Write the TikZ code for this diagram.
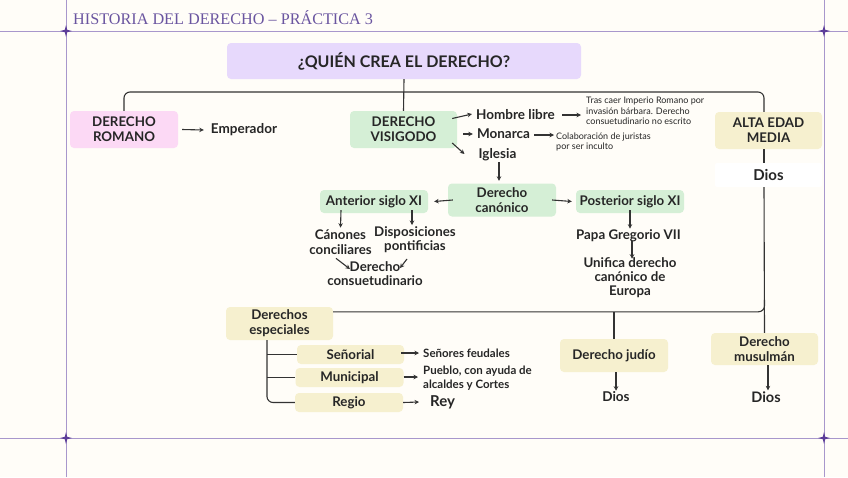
\documentclass[tikz,border=0pt]{standalone}
\usepackage{fontspec}
\setmainfont{Lato}
\newfontfamily\titlefont{Liberation Serif}
\usetikzlibrary{arrows.meta,calc}
\definecolor{bg}{HTML}{FFFDF8}
\definecolor{frame}{HTML}{A897CC}
\definecolor{star}{HTML}{5C3D99}
\definecolor{ttl}{HTML}{6A55A0}
\definecolor{lav}{HTML}{E7D9FC}
\definecolor{pink}{HTML}{FCD9F5}
\definecolor{grn}{HTML}{D5EFD6}
\definecolor{yel}{HTML}{F6F0CF}
\definecolor{txt}{HTML}{262626}
\definecolor{ln}{HTML}{333333}
\tikzset{
  box/.style={rounded corners=4pt, inner sep=0pt, align=center, text=txt,
    font=\bfseries\fontsize{13.3}{15}\selectfont},
  lbl/.style={inner sep=0pt, align=center, text=txt, font=\bfseries\fontsize{13.3}{14.5}\selectfont},
  small/.style={inner sep=0pt, align=left, text=txt, font=\fontsize{9}{10.6}\selectfont},
  conn/.style={draw=ln, line width=1.1pt},
  arr/.style={draw=ln, line width=1.1pt, -{Stealth[length=4.5pt,width=4.5pt]}},
  starshape/.pic={\fill[star] (-6,0) -- (-1.2,-1.2) -- (0,-6) -- (1.2,-1.2) -- (6,0) -- (1.2,1.2) -- (0,6) -- (-1.2,1.2) -- cycle;}
}
\begin{document}
\begin{tikzpicture}[x=1pt,y=-1pt]
\useasboundingbox (0,0) rectangle (848,477);
\fill[bg] (0,0) rectangle (848,477);
% frame
\draw[frame, line width=0.9pt] (0,31) -- (848,31);
\draw[frame, line width=0.9pt] (0,438) -- (848,438);
\draw[frame, line width=0.9pt] (66,0) -- (66,477);
\draw[frame, line width=0.9pt] (824,0) -- (824,477);
\pic at (66,31) {starshape};
\pic at (824,31) {starshape};
\pic at (66,438) {starshape};
\pic at (824,438) {starshape};
\node[anchor=west, inner sep=0pt, text=ttl, font=\titlefont\fontsize{16.2}{17}\selectfont] (title) at (73,18) {HISTORIA DEL DERECHO – PRÁCTICA 3};

% main boxes
\node[box, fill=lav, minimum width=354pt, minimum height=36pt, font=\bfseries\fontsize{16}{17}\selectfont] (top) at (404,61) {¿QUIÉN CREA EL DERECHO?};
\node[box, fill=pink, minimum width=108pt, minimum height=37pt] (romano) at (124,129.5) {DERECHO\\ROMANO};
\node[box, fill=grn, minimum width=107pt, minimum height=37pt] (visigodo) at (403.5,129.5) {DERECHO\\VISIGODO};
\node[box, fill=yel, minimum width=107pt, minimum height=37pt] (alta) at (768.5,130.5) {ALTA EDAD\\MEDIA};
\node[box, fill=white, rounded corners=2pt, minimum width=107pt, minimum height=24pt, font=\bfseries\fontsize{15}{16}\selectfont] (dios1) at (768.5,175) {Dios};

\coordinate (bar) at (404,92);
\draw[conn] (top.south) -- (visigodo.north);
\draw[conn, rounded corners=6pt] (romano.north) |- (bar) -| ([shift={(-4.5,0)}]alta.north);
\draw[conn] ([shift={(-4.5,0)}]alta.south) -- ([shift={(-4.5,0)}]dios1.north);

% romano
\node[lbl, font=\bfseries\fontsize{13.5}{15}\selectfont] (emperador) at (244,130) {Emperador};
\draw[arr] ([shift={(4,0)}]romano.east) -- ([shift={(-7,0)}]emperador.west);

% visigodo
\node[lbl, font=\bfseries\fontsize{13.5}{15}\selectfont] (hombre) at (515.5,115) {Hombre libre};
\node[lbl, font=\bfseries\fontsize{13.5}{15}\selectfont] (monarca) at (503.5,134) {Monarca};
\node[lbl, font=\bfseries\fontsize{13.5}{15}\selectfont] (iglesia) at (497.5,155) {Iglesia};
\draw[arr] ([shift={(-5,-11)}]visigodo.east) -- ([shift={(-4,-1)}]hombre.west);
\draw[arr] ([shift={(6,4.5)}]visigodo.east) -- ([shift={(-4,0)}]monarca.west);
\draw[arr] ([shift={(-5,13.5)}]visigodo.east) -- ([shift={(-14,-1)}]iglesia.west);

\node[small, anchor=west] (tras) at (586,111) {Tras caer Imperio Romano por\\invasión bárbara. Derecho\\consuetudinario no escrito};
\node[small, anchor=west] (colab) at (556,142) {Colaboración de juristas\\por ser inculto};
\draw[arr] ([shift={(7,0)}]hombre.east) -- ([shift={(-5,0)}]tras.west |- hombre.east);
\draw[arr] ([shift={(4,1)}]monarca.east) -- ([shift={(-2,0)}]colab.west |- 0,135);

% canonico
\node[box, fill=grn, minimum width=108pt, minimum height=33pt] (canonico) at (502,200) {Derecho\\canónico};
\draw[arr] ([shift={(1.5,1)}]iglesia.south) -- ([shift={(-3,-2.5)}]canonico.north);
\node[box, fill=grn, minimum width=108pt, minimum height=23pt] (anterior) at (374,201.5) {Anterior siglo XI};
\node[box, fill=grn, minimum width=108pt, minimum height=23pt] (posterior) at (630,201.5) {Posterior siglo XI};
\draw[arr] ([shift={(5,0)}]canonico.west) -- ([shift={(6,0)}]anterior.east);
\draw[arr] ([shift={(-4,0)}]canonico.east) -- ([shift={(-4,0)}]posterior.west);

\node[lbl] (canones) at (340.5,242) {Cánones\\conciliares};
\node[lbl] (dispos) at (415,239.5) {Disposiciones\\pontificias};
\node[lbl] (consuet) at (375,273.5) {Derecho\\consuetudinario};
\draw[arr] ([shift={(-33,-3)}]anterior.south) -- ([shift={(0,-2)}]canones.north);
\draw[arr] ([shift={(38,-3)}]anterior.south) -- ([shift={(-3,-1)}]dispos.north);
\draw[arr] ([shift={(-4.5,4)}]canones.south) -- ([shift={(-25,8)}]consuet.north);
\draw[arr] ([shift={(-8,6)}]dispos.south) -- ([shift={(25,7)}]consuet.north);

\node[lbl] (papa) at (628.5,236) {Papa Gregorio VII};
\node[lbl, font=\bfseries\fontsize{13.3}{14}\selectfont] (unifica) at (630,278) {Unifica derecho\\canónico de\\Europa};
\draw[arr] ([shift={(0,-3)}]posterior.south) -- ([shift={(1.5,-1)}]papa.north);
\draw[arr] ([shift={(3.5,-1)}]papa.south) -- ([shift={(2,1)}]unifica.north);

% lower part
\node[box, fill=yel, minimum width=107pt, minimum height=33pt] (especiales) at (279.5,323.5) {Derechos\\especiales};
\node[box, fill=yel, minimum width=107pt, minimum height=19pt] (senorial) at (350.5,354.5) {Señorial};
\node[box, fill=yel, minimum width=108pt, minimum height=19pt] (municipal) at (349.5,377.5) {Municipal};
\node[box, fill=yel, minimum width=108pt, minimum height=19pt] (regio) at (349,402.5) {Regio};
\node[box, fill=yel, minimum width=108pt, minimum height=33pt] (judio) at (614,355.5) {Derecho judío};
\node[box, fill=yel, minimum width=107pt, minimum height=32pt] (musulman) at (764.5,349) {Derecho\\musulmán};

\draw[conn] ([shift={(-4.5,0)}]dios1.south) -- (musulman.north);
\draw[conn, rounded corners=6pt] ([shift={(0,5)}]especiales.north east) -| ([shift={(0,-33)}]musulman.north);
\draw[conn] (judio.north) -- ++(0,-27);

\coordinate (trunk) at ([shift={(-12.5,0)}]especiales.south);
\draw[conn, rounded corners=6pt] (trunk) |- (regio.west);
\draw[conn] (trunk |- senorial.west) -- (senorial.west);
\draw[conn] (trunk |- municipal.west) -- (municipal.west);

\node[lbl, font=\bfseries\fontsize{11.5}{13.5}\selectfont, anchor=west] (senores) at (423,353) {Señores feudales};
\node[lbl, font=\bfseries\fontsize{11.5}{13.8}\selectfont, anchor=west, align=left] (pueblo) at (423,378) {Pueblo, con ayuda de\\alcaldes y Cortes};
\node[lbl, font=\bfseries\fontsize{15}{16}\selectfont, anchor=west] (rey) at (430,402) {Rey};
\draw[arr] ([shift={(-3,0)}]senorial.east |- senores.west) -- ([shift={(-4,0)}]senores.west);
\draw[arr] (municipal.east |- 0,377) -- ([shift={(-5,0)}]pueblo.west |- 0,377);
\draw[arr] (regio.east) -- ([shift={(-11,0)}]rey.west);

\node[lbl, font=\bfseries\fontsize{13.5}{15}\selectfont] (diosj) at (616,397) {Dios};
\node[lbl, font=\bfseries\fontsize{14.5}{15}\selectfont] (diosm) at (766,397) {Dios};
\draw[arr] ([shift={(2,0)}]judio.south) -- ([shift={(0,-1)}]diosj.north);
\draw[arr] ([shift={(3.5,0)}]musulman.south) -- ([shift={(2,-1)}]diosm.north);
\end{tikzpicture}
\end{document}
